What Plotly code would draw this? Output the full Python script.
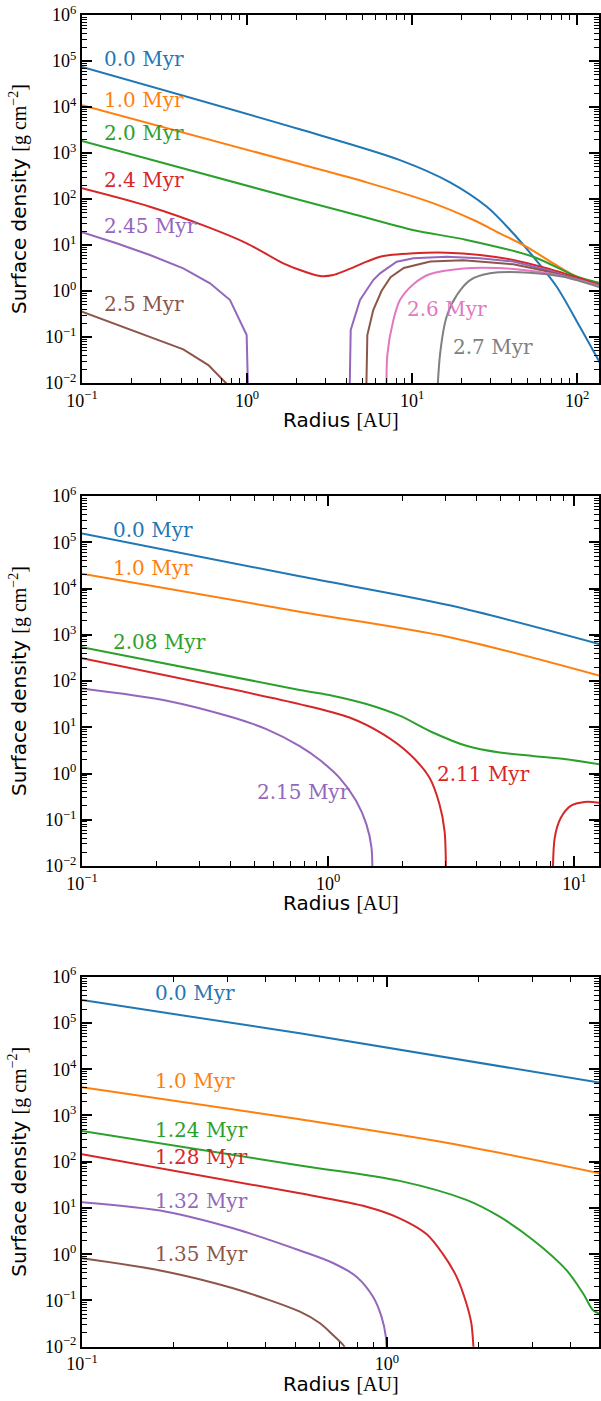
import plotly.graph_objects as go

# ---------------- Panel 1 (top) ----------------
r1_00 = [0.1, 2.09, 8.45, 17.0, 28.4, 39.3, 54.3, 75.3, 104, 138]
s1_00 = [7.41e4, 3.27e3, 700, 230, 67.6, 21.2, 5.57, 1.24, 0.167, 0.0269]
r1_10 = [0.1, 2.09, 5.31, 13.5, 23.6, 34.1, 49.5, 71.9, 99.5, 138]
s1_10 = [1.10e4, 575, 230, 80.5, 34.9, 17.9, 9.12, 3.98, 2.04, 1.41]
r1_20 = [0.1, 2.09, 4.21, 10.1, 21.4, 54.3, 100, 138]
s1_20 = [1820, 95, 49, 21.2, 12.9, 5.57, 2.04, 1.48]
r1_24 = [0.1, 0.258, 0.570, 0.995, 1.66, 2.09, 2.77, 3.33, 5.31, 6.40, 10.2, 16.2, 25.8, 41.1, 65.5, 104, 138]
s1_24 = [171, 68.1, 25.1, 10.9, 3.98, 2.86, 2.12, 2.23, 4.34, 5.57, 6.59, 6.81, 6.07, 4.72, 3.11, 1.88, 1.35]
r1_245 = [0.1, 0.162, 0.258, 0.411, 0.597, 0.789, 0.995, 1.02, None,
          4.17, 4.25, 4.84, 5.82, 6.40, 8.07, 10.2, 16.2, 25.8, 41.1, 65.5, 104, 138]
s1_245 = [18.9, 10.9, 6.07, 3.11, 1.47, 0.637, 0.110, 0.003, None,
          0.003, 0.142, 0.637, 1.73, 2.42, 4.34, 5.13, 5.57, 5.13, 4.37, 2.86, 1.74, 1.29]
r1_25 = [0.1, 0.258, 0.411, 0.583, 0.754, 0.794, None,
         5.26, 5.36, 5.82, 6.53, 7.41, 8.91, 12.9, 20.5, 41.1, 65.5, 104, 138]
s1_25 = [0.356, 0.102, 0.0537, 0.0245, 0.0100, 0.0079, None,
         0.003, 0.110, 0.386, 1.0, 2.0, 3.16, 4.37, 4.68, 3.80, 2.69, 1.74, 1.26]
r1_26 = [7.03, 7.08, 7.71, 8.45, 10.2, 12.9, 20.5, 32.6, 51.9, 82.6, 138]
s1_26 = [0.003, 0.040, 0.234, 0.637, 1.41, 2.34, 3.09, 3.16, 2.75, 2.09, 1.26]
r1_27 = [14.1, 14.8, 16.2, 18.7, 22.5, 29.7, 51.9, 82.6, 138]
s1_27 = [0.003, 0.0437, 0.275, 0.818, 1.73, 2.42, 2.50, 2.04, 1.20]

# ---------------- Panel 2 (middle) ----------------
r2_00 = [0.1, 0.766, 3.11, 12.6]
s2_00 = [1.55e5, 1.84e4, 4.33e3, 631]
r2_10 = [0.1, 0.766, 3.11, 12.6]
s2_10 = [2.09e4, 3.16e3, 885, 131]
r2_208 = [0.1, 0.766, 1.04, 1.43, 1.95, 2.66, 3.64, 4.97, 6.78, 9.25, 12.6]
s2_208 = [537, 64.0, 48.2, 31.8, 17.8, 7.71, 3.98, 2.84, 2.40, 2.04, 1.58]
r2_211 = [0.1, 0.766, 1.22, 1.67, 2.14, 2.58, 2.83, 2.97, 3.01, None,
          8.17, 8.32, 8.81, 9.66, 11.0, 12.6]
s2_211 = [309, 31.6, 16.2, 7.08, 2.63, 0.813, 0.219, 0.0569, 0.003, None,
          0.003, 0.0407, 0.110, 0.20, 0.242, 0.234]
r2_215 = [0.1, 0.221, 0.411, 0.561, 0.766, 0.925, 1.11, 1.30, 1.43, 1.50, 1.51]
s2_215 = [69.2, 37.6, 16.2, 9.12, 3.90, 1.95, 0.813, 0.255, 0.0794, 0.0245, 0.003]

# ---------------- Panel 3 (bottom) ----------------
r3_00 = [0.1, 0.518, 4.98]
s3_00 = [3.13e5, 5.97e4, 5.13e3]
r3_10 = [0.1, 0.518, 1.60, 4.98]
s3_10 = [4.07e3, 826, 251, 56.1]
r3_124 = [0.1, 0.518, 1.10, 1.82, 2.34, 3.01, 3.87, 4.39, 4.73, 4.98]
s3_124 = [461, 83.2, 38.5, 14.9, 6.46, 2.03, 0.457, 0.143, 0.0622, 0.0513]
r3_128 = [0.1, 0.518, 0.857, 1.10, 1.35, 1.52, 1.69, 1.82, 1.89, 1.92, 1.94]
s3_128 = [145, 20.7, 10.6, 5.97, 2.70, 1.04, 0.327, 0.0871, 0.0321, 0.010, 0.003]
r3_132 = [0.1, 0.189, 0.313, 0.518, 0.665, 0.794, 0.900, 0.959, 0.991, 1.0]
s3_132 = [13.2, 8.30, 3.63, 1.20, 0.646, 0.327, 0.120, 0.0447, 0.0166, 0.003]
r3_135 = [0.1, 0.189, 0.313, 0.518, 0.603, 0.665, 0.718, 0.741]
s3_135 = [0.815, 0.419, 0.183, 0.0571, 0.0321, 0.0179, 0.0109, 0.0079]

# labels
labels1 = ["0.0 Myr", "1.0 Myr", "2.0 Myr", "2.4 Myr", "2.45 Myr", "2.5 Myr", "2.6 Myr", "2.7 Myr"]
labels2 = ["0.0 Myr", "1.0 Myr", "2.08 Myr", "2.11 Myr", "2.15 Myr"]
labels3 = ["0.0 Myr", "1.0 Myr", "1.24 Myr", "1.28 Myr", "1.32 Myr", "1.35 Myr"]

# tick labels
ytick_vals = [1e-2, 1e-1, 1e0, 1e1, 1e2, 1e3, 1e4, 1e5, 1e6]
ytick_text = ["10<sup>−2</sup>", "10<sup>−1</sup>", "10<sup>0</sup>", "10<sup>1</sup>", "10<sup>2</sup>",
              "10<sup>3</sup>", "10<sup>4</sup>", "10<sup>5</sup>", "10<sup>6</sup>"]
xtick_vals = [0.1, 1, 10, 100]
xtick_text = ["10<sup>−1</sup>", "10<sup>0</sup>", "10<sup>1</sup>", "10<sup>2</sup>"]

C = ["#1f77b4", "#ff7f0e", "#2ca02c", "#d62728", "#9467bd", "#8c564b", "#e377c2", "#7f7f7f"]

W, H = 601, 1401
XL, XR = 82, 599
panels = [
    dict(top=15, bot=383, xr=[-1, 2.133]),
    dict(top=496, bot=866, xr=[-1, 1.10]),
    dict(top=976.7, bot=1346.7, xr=[-1, 0.695]),
]

curves = [
    (1, [(r1_00, s1_00, C[0], "spline"), (r1_10, s1_10, C[1], "spline"), (r1_20, s1_20, C[2], "spline"),
         (r1_24, s1_24, C[3], "spline"), (r1_245, s1_245, C[4], "linear"), (r1_25, s1_25, C[5], "linear"),
         (r1_26, s1_26, C[6], "spline"), (r1_27, s1_27, C[7], "spline")]),
    (2, [(r2_00, s2_00, C[0], "spline"), (r2_10, s2_10, C[1], "spline"), (r2_208, s2_208, C[2], "spline"),
         (r2_211, s2_211, C[3], "spline"), (r2_215, s2_215, C[4], "spline")]),
    (3, [(r3_00, s3_00, C[0], "spline"), (r3_10, s3_10, C[1], "spline"), (r3_124, s3_124, C[2], "spline"),
         (r3_128, s3_128, C[3], "spline"), (r3_132, s3_132, C[4], "spline"), (r3_135, s3_135, C[5], "spline")]),
]

fig = go.Figure()
for idx, lst in curves:
    sfx = "" if idx == 1 else str(idx)
    for r, s, col, shape in lst:
        fig.add_trace(go.Scatter(x=r, y=s, mode="lines", line=dict(color=col, width=2, shape=shape, smoothing=0.85),
                                 xaxis="x" + sfx, yaxis="y" + sfx, showlegend=False, hoverinfo="skip",
                                 connectgaps=False))

def minor_log(lo, hi):
    vals = []
    for e in range(lo, hi + 1):
        for m in range(2, 10):
            vals.append(m * 10.0 ** e)
    return vals

tickfont = dict(family="Liberation Serif", size=18, color="black")
common = dict(type="log", showline=True, linecolor="black", linewidth=2, mirror="allticks",
              ticks="inside", ticklen=10, tickwidth=2, tickcolor="black", showgrid=False, zeroline=False,
              tickfont=tickfont, automargin=False)

layout = dict(width=W, height=H, margin=dict(l=0, r=0, t=0, b=0, pad=0, autoexpand=False),
              paper_bgcolor="white", plot_bgcolor="white", showlegend=False)
annotations = []
for i, p in enumerate(panels):
    sfx = "" if i == 0 else str(i + 1)
    y0 = 1 - p["bot"] / H
    y1 = 1 - p["top"] / H
    layout["xaxis" + sfx] = dict(common, domain=[XL / W, XR / W], range=p["xr"], anchor="y" + sfx,
                                 tickvals=xtick_vals, ticktext=xtick_text,
                                 minor=dict(tickvals=minor_log(-1, 2), ticks="inside", ticklen=5,
                                            tickwidth=1, tickcolor="black"))
    layout["yaxis" + sfx] = dict(common, domain=[y0, y1], range=[-2, 6], anchor="x" + sfx,
                                 tickvals=ytick_vals, ticktext=ytick_text,
                                 minor=dict(tickvals=minor_log(-2, 5), ticks="inside", ticklen=5,
                                            tickwidth=1, tickcolor="black"))
    annotations.append(dict(text='Radius <span style="font-family:Liberation Serif">[AU]</span>',
                            x=(XL + XR) / 2 / W, y=1 - (p["bot"] + 37) / H, xref="paper", yref="paper",
                            showarrow=False, xanchor="center", yanchor="middle",
                            font=dict(family="DejaVu Sans", size=20, color="black")))
    annotations.append(dict(text='Surface density <span style="font-family:Liberation Serif">[g cm<sup>−2</sup>]</span>',
                            x=18 / W, y=1 - (p["top"] + p["bot"]) / 2 / H, xref="paper", yref="paper",
                            showarrow=False, xanchor="center", yanchor="middle", textangle=-90,
                            font=dict(family="DejaVu Sans", size=20, color="black")))

# curve label positions (log10 of radius, log10 of surface density)
lab_pos1 = [(-0.881, 5.037), (-0.881, 4.152), (-0.881, 3.428), (-0.881, 2.413), (-0.881, 1.413),
            (-0.881, -0.283), (0.958, -0.398), (1.235, -1.21)]
lab_pos2 = [(-0.882, 5.262), (-0.882, 4.445), (-0.882, 2.84), (0.432, -0.015), (-0.298, -0.393)]
lab_pos3 = [(-0.766, 5.641), (-0.766, 3.751), (-0.766, 2.685), (-0.766, 2.108), (-0.766, 1.15), (-0.766, 0.004)]
for labs, poss, sfx in [(labels1, lab_pos1, ""), (labels2, lab_pos2, "2"), (labels3, lab_pos3, "3")]:
    for k, (t, (lx, ly)) in enumerate(zip(labs, poss)):
        annotations.append(dict(text=t, x=lx, y=ly, xref="x" + sfx, yref="y" + sfx, showarrow=False,
                                xanchor="left", yanchor="middle",
                                font=dict(family="DejaVu Serif", size=20, color=C[k])))
layout["annotations"] = annotations
fig.update_layout(**layout)
fig.write_html("out.html", config={"displayModeBar": False},
               post_script="document.body.style.margin='0px';document.body.style.overflow='hidden';")
